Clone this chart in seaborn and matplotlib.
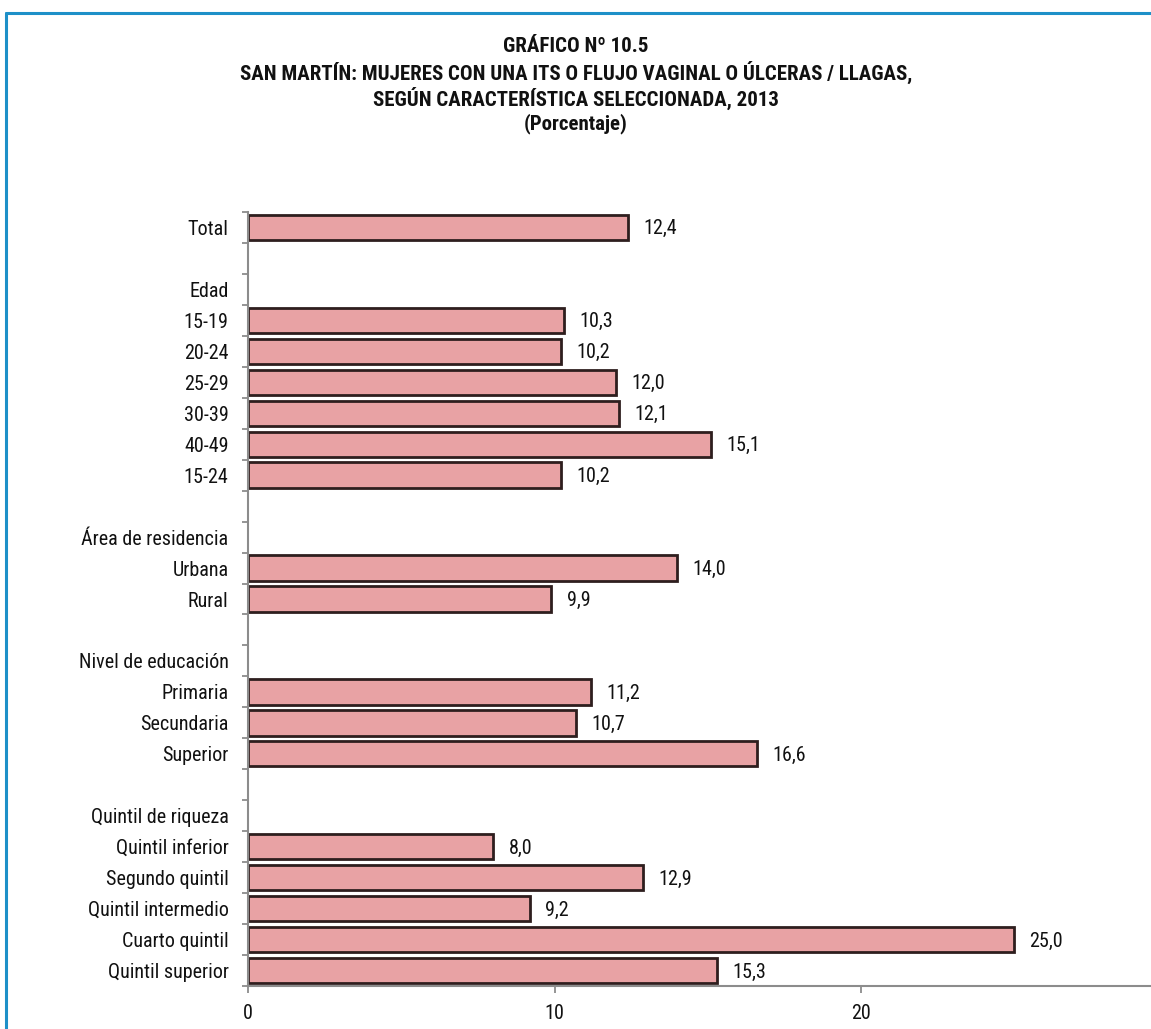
import matplotlib
matplotlib.use("Agg")
import matplotlib.pyplot as plt
from matplotlib.lines import Line2D
import seaborn as sns
import pandas as pd

# ---- data ----
row_labels = ["Total", " ", "Edad", "15-19", "20-24", "25-29", "30-39", "40-49", "15-24",
              "  ", "Área de residencia", "Urbana", "Rural",
              "   ", "Nivel de educación", "Primaria", "Secundaria", "Superior",
              "    ", "Quintil de riqueza", "Quintil inferior", "Segundo quintil",
              "Quintil intermedio", "Cuarto quintil", "Quintil superior"]
bar_labels = ["Total", "15-19", "20-24", "25-29", "30-39", "40-49", "15-24",
              "Urbana", "Rural", "Primaria", "Secundaria", "Superior",
              "Quintil inferior", "Segundo quintil", "Quintil intermedio",
              "Cuarto quintil", "Quintil superior"]
bar_values = [12.4, 10.3, 10.2, 12.0, 12.1, 15.1, 10.2,
              14.0, 9.9, 11.2, 10.7, 16.6,
              8.0, 12.9, 9.2, 25.0, 15.3]
x_ticks = [0, 10, 20]
title_lines = ["GRÁFICO Nº 10.5",
               "SAN MARTÍN: MUJERES CON UNA ITS O FLUJO VAGINAL O ÚLCERAS / LLAGAS,",
               "SEGÚN CARACTERÍSTICA SELECCIONADA, 2013",
               "(Porcentaje)"]

sns.set_style("white")
plt.rcParams['font.family'] = ['Roboto Condensed', 'Liberation Sans', 'DejaVu Sans']

df = pd.DataFrame({"cat": bar_labels, "val": bar_values})

W, H = 1151, 1029
LS = 14.5
fig = plt.figure(figsize=(W / 100, H / 100), dpi=100)
ax = fig.add_axes([248 / W, 1 - 986 / H, 1 - 248 / W, (986 - 212) / H])

sns.barplot(data=df, x="val", y="cat", order=row_labels, orient="h",
            color="#E8A2A4", saturation=1, width=0.82,
            edgecolor="#2E1E1E", linewidth=2.0, ax=ax)

ax.set_xlim(0, (W - 248) / 30.65)
ax.set_ylim(len(row_labels) - 0.5, -0.5)
ax.set_xlabel("")
ax.set_ylabel("")

for lab, v in zip(bar_labels, bar_values):
    y = row_labels.index(lab)
    ax.annotate(f"{v:.1f}".replace(".", ","), xy=(v, y), xytext=(11, -1),
                textcoords="offset points", ha="left", va="center",
                fontsize=LS, color="#111111")

for s in ["top", "right"]:
    ax.spines[s].set_visible(False)
for s in ["left", "bottom"]:
    ax.spines[s].set_color("#8C8C8C")
    ax.spines[s].set_linewidth(1.5)

ax.set_xticks(x_ticks)
ax.set_xticklabels([str(t) for t in x_ticks])
ax.tick_params(axis="x", which="major", length=5, width=1.3, color="#8C8C8C",
               labelsize=LS, pad=8, bottom=True, labelcolor="#111111")
ax.set_yticks(range(len(row_labels)))
ax.set_yticklabels(row_labels)
ax.tick_params(axis="y", which="major", length=0, pad=14, labelsize=LS, labelcolor="#111111")
ax.set_yticks([i - 0.5 for i in range(len(row_labels) + 1)], minor=True)
ax.tick_params(axis="y", which="minor", length=4, width=1.3, color="#8C8C8C", left=True)

y0 = 46
for i, t in enumerate(title_lines):
    fig.text(576 / W, 1 - (y0 + i * 26) / H, t, ha="center", va="center",
             fontsize=15, fontweight="bold", color="#111111")

frame_c = "#1E90C8"
fig.add_artist(Line2D([6 / W, 1], [1 - 13 / H, 1 - 13 / H], color=frame_c, lw=2.2,
                      transform=fig.transFigure))
fig.add_artist(Line2D([6 / W, 6 / W], [0, 1 - 13 / H], color=frame_c, lw=2.2,
                      transform=fig.transFigure))

fig.savefig("out.png", dpi=100, facecolor="white")
